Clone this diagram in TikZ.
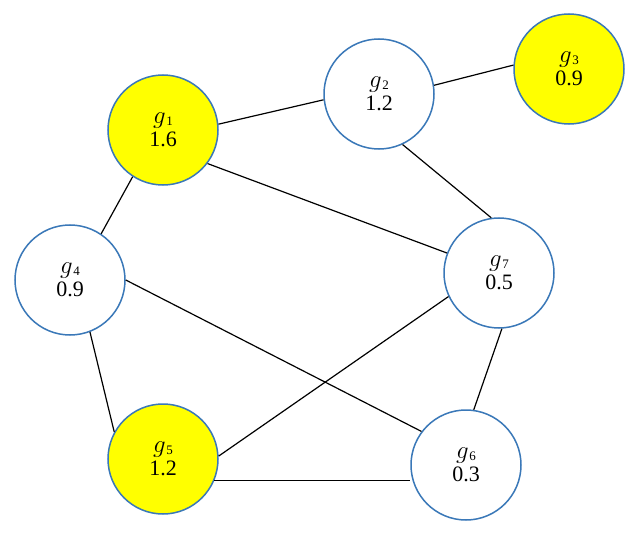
\documentclass[tikz,border=0pt]{standalone}
\usepackage{fontspec}
\setmainfont{Liberation Serif}
\newcommand{\glab}[2]{{\fontsize{26}{26}\selectfont$g$}\kern0.5pt\raisebox{-1.5pt}{\fontsize{13}{13}\selectfont #1}\\#2}
\begin{document}
\begin{tikzpicture}[x=1pt,y=-1pt,
  gnode/.style={circle,draw=circblue,line width=1.5pt,minimum size=110pt,inner sep=0pt,
    align=center,font=\fontsize{22}{23}\selectfont},
  hot/.style={gnode,fill=gyellow},
  cold/.style={gnode,fill=white},
  link/.style={draw=black,line width=1.2pt}]
\definecolor{circblue}{HTML}{3A78B8}
\definecolor{gyellow}{HTML}{FFFF00}
\useasboundingbox (0,0) rectangle (638,535);
\node[hot]  (g1) at (163,130) {\glab{1}{1.6}};
\node[cold] (g2) at (379,94)  {\glab{2}{1.2}};
\node[hot]  (g3) at (569,69)  {\glab{3}{0.9}};
\node[cold] (g4) at (70,280)  {\glab{4}{0.9}};
\node[hot]  (g5) at (163,459) {\glab{5}{1.2}};
\node[cold] (g6) at (466,465) {\glab{6}{0.3}};
\node[cold] (g7) at (499,273) {\glab{7}{0.5}};
\draw[link] (g1.6) -- (g2.-174);
\draw[link] (g2.9) -- (g3.176);
\draw[link] (g1.-123) -- (g4.56);
\draw[link] (g1.-37) -- (g7.159);
\draw[link] (g2.-65) -- (g7.98);
\draw[link] (g4.-69) -- (g5.151);
\draw[link] (g4.0) -- (g6.143);
\draw[link] (g5.3) -- (g7.205);
\draw[link] (g7.-87) -- (g6.82);
\draw[link] (g5.-23) -- (g5.-23 -| g6.west);
\end{tikzpicture}
\end{document}
